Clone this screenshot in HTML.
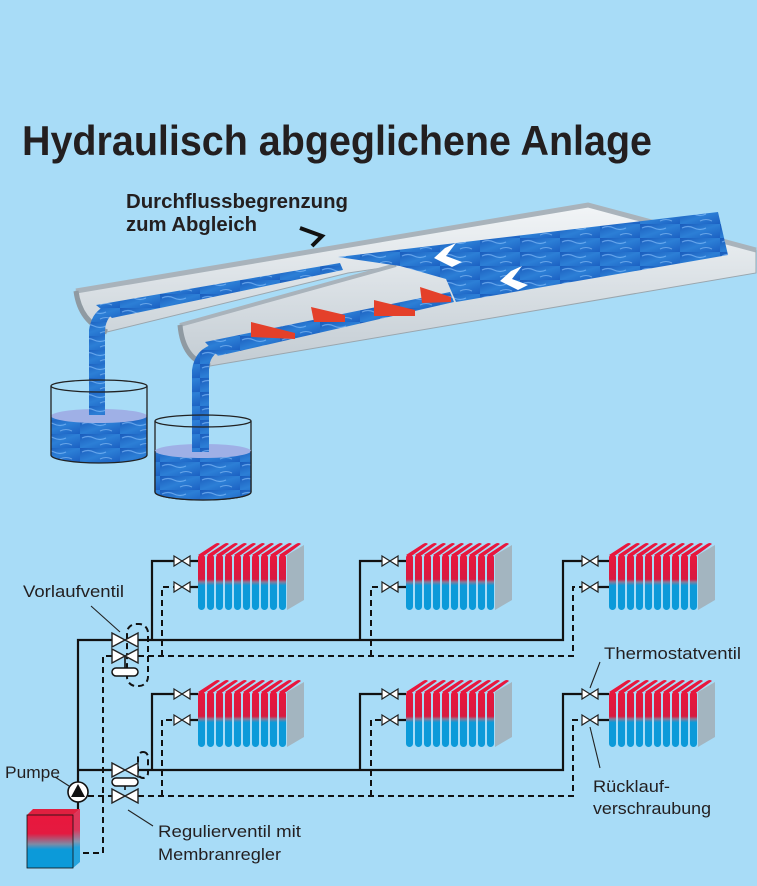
<!DOCTYPE html>
<html><head><meta charset="utf-8"><style>
html,body{margin:0;padding:0;background:#a8dcf7;}
svg{display:block;}
text{font-family:"Liberation Sans Narrow","Liberation Sans",sans-serif;fill:#231f20;}
</style></head><body>
<svg width="757" height="886" viewBox="0 0 757 886" xmlns="http://www.w3.org/2000/svg">
<defs>
<linearGradient id="wat" x1="0" y1="0" x2="1" y2="1">
<stop offset="0" stop-color="#1a5cbc"/><stop offset="0.5" stop-color="#2c7fd6"/><stop offset="1" stop-color="#1b60c2"/></linearGradient>
<pattern id="wv" width="40" height="14" patternUnits="userSpaceOnUse">
<rect width="40" height="14" fill="url(#wat)"/>
<path d="M2,4 q6,-3 12,0 t12,0" stroke="#8ec4ff" stroke-width="1.2" fill="none" opacity="0.6"/>
<path d="M20,11 q6,-3 12,0" stroke="#a8d4ff" stroke-width="1" fill="none" opacity="0.5"/>
</pattern>
<linearGradient id="gut" x1="0" y1="0" x2="0" y2="1">
<stop offset="0" stop-color="#f2f5f7"/><stop offset="1" stop-color="#c3ccd3"/></linearGradient>
<linearGradient id="rad" x1="0" y1="0" x2="0" y2="1">
<stop offset="0" stop-color="#e9173d"/><stop offset="0.45" stop-color="#d81a40"/><stop offset="0.5" stop-color="#8a7a98"/><stop offset="0.56" stop-color="#0c9ad9"/><stop offset="1" stop-color="#0c9ad9"/></linearGradient>
<linearGradient id="boil" x1="0" y1="0" x2="0" y2="1">
<stop offset="0" stop-color="#e9173d"/><stop offset="0.35" stop-color="#e41a40"/><stop offset="0.55" stop-color="#7f8aa5"/><stop offset="0.65" stop-color="#0c9ad9"/><stop offset="1" stop-color="#0c9ad9"/></linearGradient>
<g id="radi">
<polygon points="89,12 106,2 106,57 89,67" fill="#a3b5c0"/>
<g fill="#e8173d">
<path d="M81,12 L98,1 Q101,-1 103,1 L88,12Z"/><path d="M72,12 L89,1 Q92,-1 94,1 L79,12Z"/><path d="M63,12 L80,1 Q83,-1 85,1 L70,12Z"/><path d="M54,12 L71,1 Q74,-1 76,1 L61,12Z"/><path d="M45,12 L62,1 Q65,-1 67,1 L52,12Z"/><path d="M36,12 L53,1 Q56,-1 58,1 L43,12Z"/><path d="M27,12 L44,1 Q47,-1 49,1 L34,12Z"/><path d="M18,12 L35,1 Q38,-1 40,1 L25,12Z"/><path d="M9,12 L26,1 Q29,-1 31,1 L16,12Z"/><path d="M0,12 L17,1 Q20,-1 22,1 L7,12Z"/>
</g>
<g fill="url(#rad)">
<rect x="81" y="11" width="7" height="56" rx="3.5"/><rect x="72" y="11" width="7" height="56" rx="3.5"/><rect x="63" y="11" width="7" height="56" rx="3.5"/><rect x="54" y="11" width="7" height="56" rx="3.5"/><rect x="45" y="11" width="7" height="56" rx="3.5"/><rect x="36" y="11" width="7" height="56" rx="3.5"/><rect x="27" y="11" width="7" height="56" rx="3.5"/><rect x="18" y="11" width="7" height="56" rx="3.5"/><rect x="9" y="11" width="7" height="56" rx="3.5"/><rect x="0" y="11" width="7" height="56" rx="3.5"/>
</g>
</g>
<g id="sv"><polygon points="-8,-5 0,0 -8,5" fill="#fff" stroke="#222" stroke-width="1.2"/><polygon points="8,-5 0,0 8,5" fill="#fff" stroke="#222" stroke-width="1.2"/></g>
<g id="bv"><polygon points="-13,-7 0,0 -13,7" fill="#fff" stroke="#222" stroke-width="1.4"/><polygon points="13,-7 0,0 13,7" fill="#fff" stroke="#222" stroke-width="1.4"/></g>
</defs>

<text x="22" y="155" font-size="42" font-weight="bold" textLength="630" lengthAdjust="spacingAndGlyphs">Hydraulisch abgeglichene Anlage</text>
<text x="126" y="208" font-size="20" font-weight="bold" textLength="222" lengthAdjust="spacingAndGlyphs">Durchflussbegrenzung</text>
<text x="126" y="231" font-size="20" font-weight="bold" textLength="131" lengthAdjust="spacingAndGlyphs">zum Abgleich</text>
<path d="M300,228 L322,236 L312,246" stroke="#111" stroke-width="4" fill="none"/>

<!-- buckets back -->
<path d="M51,386 L51,455 A48,8 0 0 0 147,455 L147,386" fill="url(#wv)" stroke="none"/>
<rect x="51" y="386" width="96" height="30" fill="#a8dcf7"/>
<ellipse cx="99" cy="416" rx="48" ry="7" fill="#9fb0e6"/>
<path d="M51,386 L51,455 A48,8 0 0 0 147,455 L147,386" fill="none" stroke="#222" stroke-width="1.3"/>

<!-- gutters -->
<path d="M76,291 L588,205 L756,250 L756,273 L210,366 Q183,360 180,325 L396,266 L348,273 L107,332 Q80,322 76,291Z" fill="url(#gut)" stroke="#9aa6ae" stroke-width="1"/>
<path d="M76,291 L588,205 L756,250" fill="none" stroke="#a9b3bb" stroke-width="5"/>
<path d="M180,325 L396,265" fill="none" stroke="#a9b3bb" stroke-width="4"/>
<path d="M76,291 Q80,322 107,332" fill="none" stroke="#8f9aa2" stroke-width="5"/>
<path d="M180,325 Q183,360 210,366" fill="none" stroke="#8f9aa2" stroke-width="5"/>
<!-- water -->
<polygon points="338,257 718,212 728,255 456,302 446,279 400,266" fill="url(#wv)"/>
<polygon points="96,305 340,263 343,270 112,318" fill="url(#wv)"/>
<polygon points="205,342 450,292 454,302 218,356" fill="url(#wv)"/>
<!-- red baffles -->
<g fill="#e4402a">
<polygon points="251,322 295,333 295,339 251,337"/>
<polygon points="311,307 345,315 345,322 314,322"/>
<polygon points="374,300 415,310 415,316 374,316"/>
<polygon points="420,287 451,297 451,302 422,303"/>
</g>
<!-- arrows -->
<path d="M452,245 L437,256 L452,266 M442,256 L462,256" stroke="#fff" stroke-width="0" fill="none"/>
<polygon points="445,248 456,243 446,256 462,262 452,267 434,258" fill="#fff"/>
<polygon points="511,271 522,266 512,279 528,285 518,290 500,281" fill="#fff"/>
<!-- pipes -->
<path d="M89,415 L89,330 Q92,308 112,304 L120,310 Q106,315 105,330 L105,415Z" fill="url(#wv)"/>
<path d="M192,450 L192,370 Q195,348 215,344 L222,350 Q209,355 209,370 L209,450Z" fill="url(#wv)"/>
<!-- front bucket -->
<ellipse cx="99" cy="386" rx="48" ry="6" fill="none" stroke="#222" stroke-width="1.3"/>
<path d="M155,421 L155,492 A48,8 0 0 0 251,492 L251,421" fill="none" stroke="#222" stroke-width="1.3"/>
<path d="M155,451 L155,492 A48,8 0 0 0 251,492 L251,451Z" fill="url(#wv)"/>
<ellipse cx="203" cy="451" rx="48" ry="7" fill="#9fb0e6"/>
<rect x="192" y="440" width="17" height="12" fill="url(#wv)"/>
<path d="M155,451 L155,492 A48,8 0 0 0 251,492 L251,451" fill="none" stroke="#222" stroke-width="1.3"/>
<ellipse cx="203" cy="421" rx="48" ry="6" fill="none" stroke="#222" stroke-width="1.3"/>

<!-- schematic -->
<g stroke="#111" stroke-width="2.2" fill="none">
<path d="M78,782 V640 H112 M138,640 H563 V561 H582"/>
<path d="M78,770 H112 M138,770 H563 V694 H582"/>
<path d="M152,640 V561 H174 M360,640 V561 H382"/>
<path d="M152,770 V694 H174 M360,770 V694 H382"/>
<path d="M78,802 V810"/>
<path d="M190,561 H198 M190,587 H198 M398,561 H406 M398,587 H406 M598,561 H609 M598,587 H609"/>
<path d="M190,694 H198 M190,720 H198 M398,694 H406 M398,720 H406 M598,694 H609 M598,720 H609"/>
<path d="M125,656 V668 M125,782 V790" stroke-width="1.6"/>
</g>
<g stroke="#111" stroke-width="2" fill="none" stroke-dasharray="6,4">
<path d="M138,656 H573 V587 H582"/>
<path d="M162,656 V587 H174 M371,656 V587 H382"/>
<path d="M112,656 H103 V853 H81"/>
<path d="M88,796 H112 M138,796 H573 V720 H582"/>
<path d="M162,796 V720 H174 M371,796 V720 H382"/>
<rect x="127" y="624" width="21" height="62" rx="9"/>
<rect x="138" y="752" width="10" height="26" rx="5"/>
</g>
<rect x="112" y="668" width="26" height="8" rx="4" fill="#fff" stroke="#111" stroke-width="1.5"/>
<rect x="112" y="778" width="26" height="8" rx="4" fill="#fff" stroke="#111" stroke-width="1.5"/>
<use href="#bv" x="125" y="640"/><use href="#bv" x="125" y="656"/>
<use href="#bv" x="125" y="770"/><use href="#bv" x="125" y="796"/>
<use href="#sv" x="182" y="561"/><use href="#sv" x="182" y="587"/>
<use href="#sv" x="390" y="561"/><use href="#sv" x="390" y="587"/>
<use href="#sv" x="590" y="561"/><use href="#sv" x="590" y="587"/>
<use href="#sv" x="182" y="694"/><use href="#sv" x="182" y="720"/>
<use href="#sv" x="390" y="694"/><use href="#sv" x="390" y="720"/>
<use href="#sv" x="590" y="694"/><use href="#sv" x="590" y="720"/>
<use href="#radi" x="198" y="543"/><use href="#radi" x="406" y="543"/><use href="#radi" x="609" y="543"/>
<use href="#radi" x="198" y="680"/><use href="#radi" x="406" y="680"/><use href="#radi" x="609" y="680"/>
<!-- pump -->
<circle cx="78" cy="792" r="10" fill="#fff" stroke="#111" stroke-width="1.6"/>
<polygon points="78,784 71,797 85,797" fill="#111"/>
<!-- boiler -->
<polygon points="27,815 33,809 80,809 73,815" fill="#e02040"/>
<polygon points="73,815 80,809 80,862 73,868" fill="url(#boil)" opacity="0.85"/>
<rect x="27" y="815" width="46" height="53" fill="url(#boil)" stroke="#111" stroke-width="0.8"/>
<!-- labels -->
<g stroke="#222" stroke-width="1.1">
<line x1="91" y1="606" x2="120" y2="632"/>
<line x1="55" y1="777" x2="69" y2="786"/>
<line x1="128" y1="810" x2="153" y2="826"/>
<line x1="600" y1="662" x2="590" y2="688"/>
<line x1="590" y1="727" x2="600" y2="768"/>
</g>
<g font-size="17">
<text x="23" y="597" textLength="101" lengthAdjust="spacingAndGlyphs">Vorlaufventil</text>
<text x="5" y="778" textLength="55" lengthAdjust="spacingAndGlyphs">Pumpe</text>
<text x="158" y="837" textLength="143" lengthAdjust="spacingAndGlyphs">Regulierventil mit</text>
<text x="158" y="860" textLength="123" lengthAdjust="spacingAndGlyphs">Membranregler</text>
<text x="604" y="659" textLength="137" lengthAdjust="spacingAndGlyphs">Thermostatventil</text>
<text x="593" y="792" textLength="77" lengthAdjust="spacingAndGlyphs">Rücklauf-</text>
<text x="593" y="814" textLength="118" lengthAdjust="spacingAndGlyphs">verschraubung</text>
</g>
</svg>
</body></html>
